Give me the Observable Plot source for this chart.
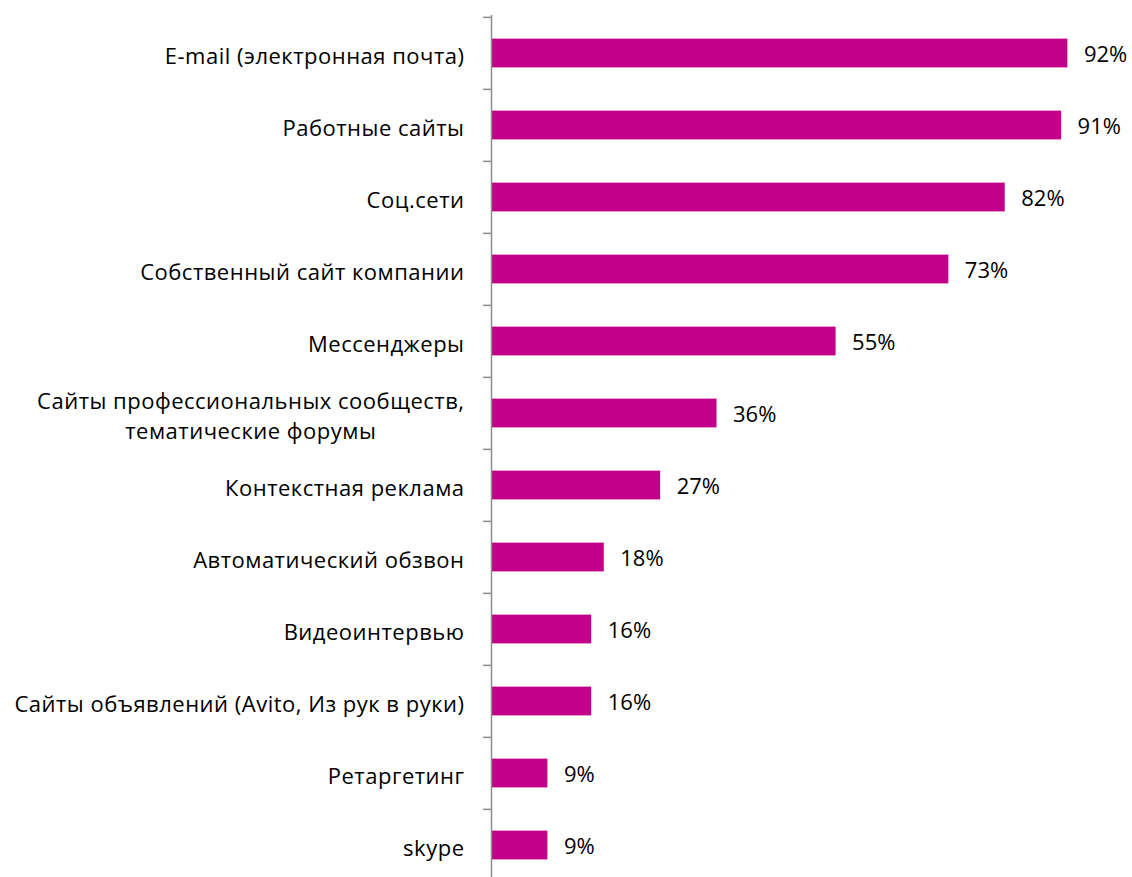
<!DOCTYPE html>
<html><head><meta charset="utf-8">
<script src="https://cdn.jsdelivr.net/npm/d3@7"></script>
<script src="https://cdn.jsdelivr.net/npm/@observablehq/plot@0.6"></script>
<style>body{margin:0;background:#fff;} svg{display:block;}</style>
</head><body><div id="chart"></div>
<script>
const categories = [
  "E-mail (электронная почта)",
  "Работные сайты",
  "Соц.сети",
  "Собственный сайт компании",
  "Мессенджеры",
  "Сайты профессиональных сообществ,\nтематические форумы",
  "Контекстная реклама",
  "Автоматический обзвон",
  "Видеоинтервью",
  "Сайты объявлений (Avito, Из рук в руки)",
  "Ретаргетинг",
  "skype"
];
const values = [92, 91, 82, 73, 55, 36, 27, 18, 16, 16, 9, 9];
const data = categories.map((c, i) => ({category: c, value: values[i]}));

const font = "'Open Sans', sans-serif";
const bandH = (882 - 15) / categories.length;

const chart = Plot.plot({
  width: 1132,
  height: 877,
  marginTop: 15,
  marginBottom: 0,
  marginLeft: 491,
  marginRight: 0,
  style: {fontFamily: font, fontSize: "22px", color: "#000", background: "#fff"},
  x: {domain: [0, 100], range: [491, 1117.5], axis: null},
  y: {domain: categories, range: [15, 882], padding: 0, axis: null},
  marks: [
    Plot.barX(data, {x: "value", y: "category", fill: "#C2008A", insetTop: 21.6, insetBottom: 21.6}),
    Plot.ruleY(categories, {y: d => d, x1: 0, x2: 0, insetLeft: -8, dy: -bandH / 2, stroke: "#8c8c8c", strokeWidth: 1.5}),
    Plot.ruleX([0], {stroke: "#8c8c8c", strokeWidth: 1.5}),
    Plot.text(data, {x: 0, y: "category", text: "category", textAnchor: "end", dx: -27, dy: 1, lineHeight: 1.36, fill: "#000", fontSize: 22, className: "cat-label"}),
    Plot.text(data, {x: "value", y: "category", text: d => d.value + "%", textAnchor: "start", dx: 16, dy: 1, fill: "#000", fontSize: 22})
  ]
});
document.getElementById("chart").append(chart);

chart.querySelectorAll(".cat-label text").forEach(t => t.setAttribute("letter-spacing", "0.5"));

// center multi-line category labels under the widest line, as in the reference
chart.querySelectorAll("text").forEach(t => {
  const spans = t.querySelectorAll("tspan");
  if (spans.length > 1) {
    const widths = Array.from(spans, s => s.getComputedTextLength());
    const W = Math.max(...widths);
    spans.forEach((s, i) => s.setAttribute("x", -(W - widths[i]) / 2));
  }
});
</script></body></html>
